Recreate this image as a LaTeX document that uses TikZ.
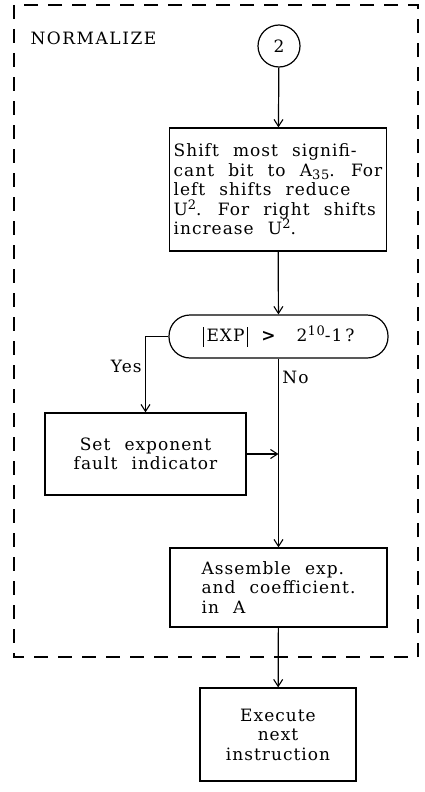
\documentclass[tikz,border=0pt]{standalone}
\usepackage{fontspec}
\setmainfont{DejaVu Serif}[LetterSpace=6,WordSpace=2.2]
\usetikzlibrary{arrows.meta}

\newcommand{\lowtxt}[1]{\raisebox{-3.5pt}{\fontsize{13}{13}\selectfont #1}}
\newcommand{\hightxt}[1]{\raisebox{6pt}{\fontsize{13}{13}\selectfont #1}}
\newcommand{\absbar}{\rule[-5pt]{1.1pt}{20pt}}

\tikzset{
  flow/.style={draw, line width=1.2pt, rectangle, inner sep=4pt},
  decision/.style={draw, line width=1.2pt, rectangle, rounded corners=21pt,
    minimum width=219pt, minimum height=43pt},
  link/.style={line width=1.2pt, -{Straight Barb[length=7pt,width=9pt,line width=1.1pt]}},
  frame/.style={line width=1.3pt, dash pattern=on 14pt off 10pt}
}

\begin{document}
\begin{tikzpicture}[x=1pt,y=1pt,font=\fontsize{17}{19.5}\selectfont]
  \useasboundingbox (0,0) rectangle (425,-792);
  % Frame
  \draw[frame] (14,-5) rectangle (418,-657);
  \node[anchor=west, font=\fontsize{17}{19.5}\selectfont\addfontfeature{LetterSpace=9}] (normLabel) at (27,-38) {NORMALIZE};
  % Boxes
  \node[draw, line width=1.2pt, circle, minimum size=42pt, inner sep=0pt] (entry) at (279,-46) {2};
  \node[flow, minimum width=216pt, minimum height=123pt, align=left] (shiftBox) at (278,-189.5)
    {Shift most signifi-\\cant bit to A\lowtxt{35}. For\\left shifts reduce\\U\hightxt{2}. For right shifts\\increase U\hightxt{2}.};
  \node[decision] (expTest) at (278.5,-336.5)
    {\absbar\,EXP\,\absbar\hspace{13pt}\textbf{>}\hspace{20pt}2\hightxt{10}-1\,?};
  \node[flow, minimum width=201pt, minimum height=82pt, align=center] (faultBox) at (145.5,-454)
    {Set exponent\\fault indicator};
  \node[flow, minimum width=217pt, minimum height=79pt, align=left] (assembleBox) at (278.5,-587.5)
    {Assemble exp.\\and coefficient.\\in A};
  \node[flow, minimum width=156pt, minimum height=93pt, align=center] (nextBox) at (278,-734.5)
    {Execute\\next\\instruction};
  % Connectors
  \draw[link] (entry) -- (shiftBox);
  \draw[link] (shiftBox) -- (expTest);
  \draw[link] (expTest.west) -| node[pos=0.7, left]{Yes} (faultBox.north);
  \draw[link] (expTest.south) -- node[pos=0.1, right]{No} (assembleBox.north);
  \draw[link] (faultBox.east) -- (faultBox.east -| expTest.south);
  \draw[link] (assembleBox) -- (nextBox);
\end{tikzpicture}
\end{document}
